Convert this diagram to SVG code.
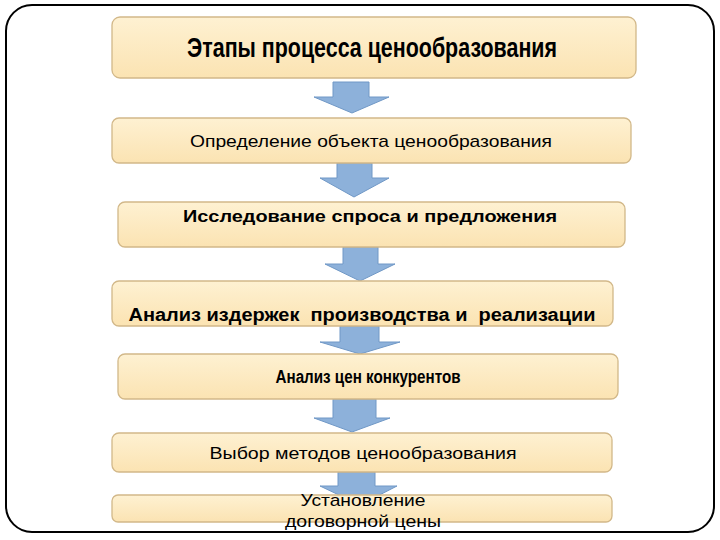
<svg xmlns="http://www.w3.org/2000/svg" width="720" height="540" viewBox="0 0 720 540">
<defs>
<linearGradient id="bg" x1="0" y1="0" x2="0" y2="1">
<stop offset="0" stop-color="#FEF1D2"/>
<stop offset="1" stop-color="#FBE3B2"/>
</linearGradient>
<style>
.box{fill:url(#bg);stroke:#D2B889;stroke-width:1.3}
.arr{fill:#8DB1DA;stroke:#7098C6;stroke-width:1}
.t{font-family:"Liberation Sans",Arial,sans-serif;fill:#000;text-anchor:middle}
.b{font-weight:bold}
</style>
</defs>
<rect x="6" y="5" width="708" height="527" rx="26" ry="26" fill="#fff" stroke="#000" stroke-width="2"/>
<g id="connectors">
<path class="arr" d="M333,82 H369 V97 H389 L352,113 L314,97 H333 Z"/>
<path class="arr" d="M337,163 H372 V178 H389 L354,197 L320,178 H337 Z"/>
<path class="arr" d="M343,247 H378 V264 H395 L360,281 L325,264 H343 Z"/>
<path class="arr" d="M340,326 H379 V342 H400 L360,354 L320,342 H340 Z"/>
<path class="arr" d="M333,399 H376 V418 H390 L352,432 L314,418 H333 Z"/>
<path class="arr" d="M338,472 H375 V486 H397 L360,505 L320,486 H338 Z"/>
</g>
<g id="n1"><rect class="box" x="112" y="17" width="524" height="61" rx="8"/>
<text class="t b" x="372" y="57" font-size="27" textLength="370" lengthAdjust="spacingAndGlyphs">Этапы процесса ценообразования</text></g>
<g id="n2"><rect class="box" x="112" y="118" width="519" height="45" rx="7"/>
<text class="t" x="371" y="147" font-size="17" textLength="362" lengthAdjust="spacingAndGlyphs">Определение объекта ценообразования</text></g>
<g id="n3"><rect class="box" x="118" y="202" width="507" height="45" rx="7"/>
<text class="t b" x="370" y="222" font-size="17" textLength="374" lengthAdjust="spacingAndGlyphs">Исследование спроса и предложения</text></g>
<g id="n4"><rect class="box" x="112" y="281" width="501" height="45" rx="7"/>
<text class="t b" x="362" y="321" font-size="18" textLength="467" lengthAdjust="spacingAndGlyphs" xml:space="preserve">Анализ издержек  производства и  реализации</text></g>
<g id="n5"><rect class="box" x="118" y="354" width="500" height="45" rx="7"/>
<text class="t b" x="368" y="383" font-size="18" textLength="185" lengthAdjust="spacingAndGlyphs">Анализ цен конкурентов</text></g>
<g id="n6"><rect class="box" x="112" y="433" width="500" height="39" rx="7"/>
<text class="t" x="363" y="459" font-size="17" textLength="307" lengthAdjust="spacingAndGlyphs">Выбор методов ценообразования</text></g>
<g id="n7"><rect class="box" x="112" y="495" width="500" height="27" rx="6"/>
<text class="t" x="363" y="506" font-size="17" textLength="125" lengthAdjust="spacingAndGlyphs">Установление</text>
<text class="t" x="363" y="527" font-size="17" textLength="156" lengthAdjust="spacingAndGlyphs">договорной цены</text></g>
</svg>
